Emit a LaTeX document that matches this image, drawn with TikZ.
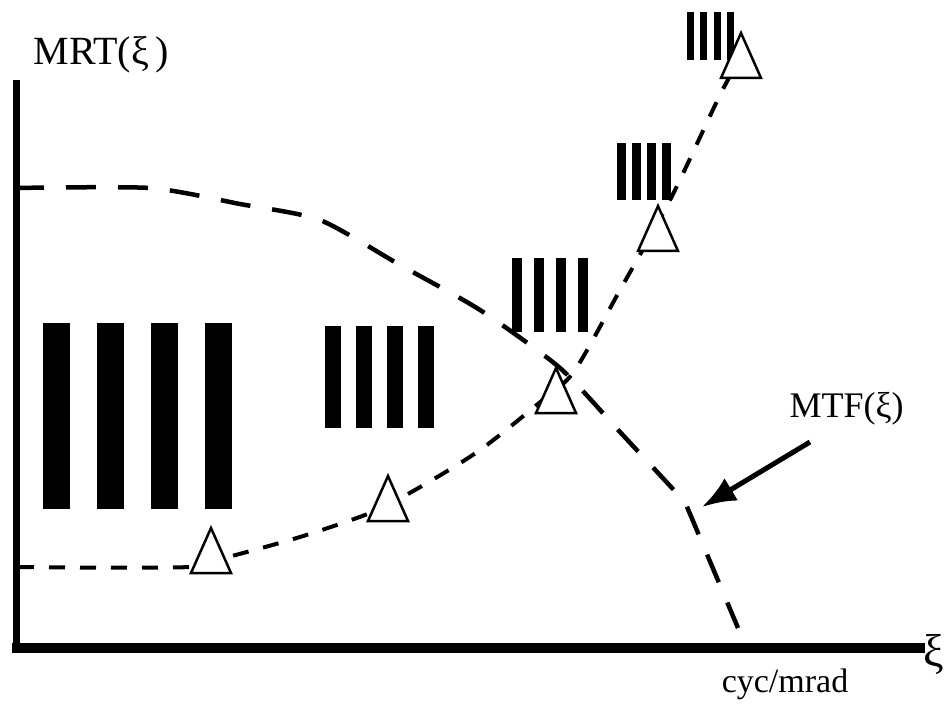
\documentclass[tikz,border=0pt]{standalone}
\usepackage{fontspec}
\setmainfont{Liberation Serif}
\usetikzlibrary{arrows.meta}

\begin{document}
\begin{tikzpicture}[x=1pt,y=-1pt,
    axis/.style={line width=7pt},
    mrtcurve/.style={line width=4.5pt,dash pattern=on 30pt off 22pt},
    mtfcurve/.style={line width=4pt,dash pattern=on 16pt off 15pt},
    pointer/.style={line width=5pt,-{Latex[length=34pt,width=26pt]}},
    tri/.pic={\draw[line width=2.5pt,fill=white,line join=miter] (-20,0) -- (0,-45) -- (20,0) -- cycle;}]
  \useasboundingbox (0,0) rectangle (947,708);

  % axes
  \draw [axis] (16,80) -- (16,652);
  \draw [line width=10pt] (12,648) -- (925,648);
  \node [anchor=west,font=\fontsize{40}{44}\selectfont] (mrt) at (30,55) {MRT(ξ\,)};
  \node [anchor=west,font=\fontsize{46}{50}\selectfont] (xi) at (920,654) {ξ};
  \node [font=\fontsize{34}{38}\selectfont] (unit) at (785,684) {cyc/mrad};

  % bar targets
  \foreach \i in {0,...,3}
    \fill (43+54*\i,323) rectangle ++(27,186);
  \foreach \i in {0,...,3}
    \fill (325+31*\i,326) rectangle ++(16,102);
  \foreach \i in {0,...,3}
    \fill (512+22*\i,258) rectangle ++(10,74);
  \foreach \i in {0,...,3}
    \fill (617+15*\i,143) rectangle ++(9,57);
  \foreach \i in {0,...,3}
    \fill (687+13.3*\i,12) rectangle ++(7,48);

  % MTF
  \draw [mtfcurve] plot [smooth,tension=0.5] coordinates
    {(18,567) (190,567) (232,556) (300,537) (370,513) (415,490) (480,450)
     (545,398) (575,370) (620,290) (670,200) (720,95) (742,55)};

  \coordinate (t1) at (211,573);
  \coordinate (t2) at (388,521);
  \coordinate (t3) at (556,413);
  \coordinate (t4) at (658,251);
  \coordinate (t5) at (741,78);
  \foreach \t in {t1,t2,t3,t4,t5}
    \pic at (\t) {tri};

  % MRT
  \draw [mrtcurve] plot [smooth,tension=0.4] coordinates
    {(14,188) (150,188) (240,204) (320,220) (400,265) (480,310) (560,368)
     (620,432) (685,502)} -- (738,628);

  \node [anchor=west,font=\fontsize{36}{40}\selectfont] (mtf) at (786,409) {MTF(ξ)};
  \coordinate (tail) at (810,442);
  \coordinate (tip) at (702,507);
  \draw [pointer] (tail) -- (tip);
\end{tikzpicture}
\end{document}
